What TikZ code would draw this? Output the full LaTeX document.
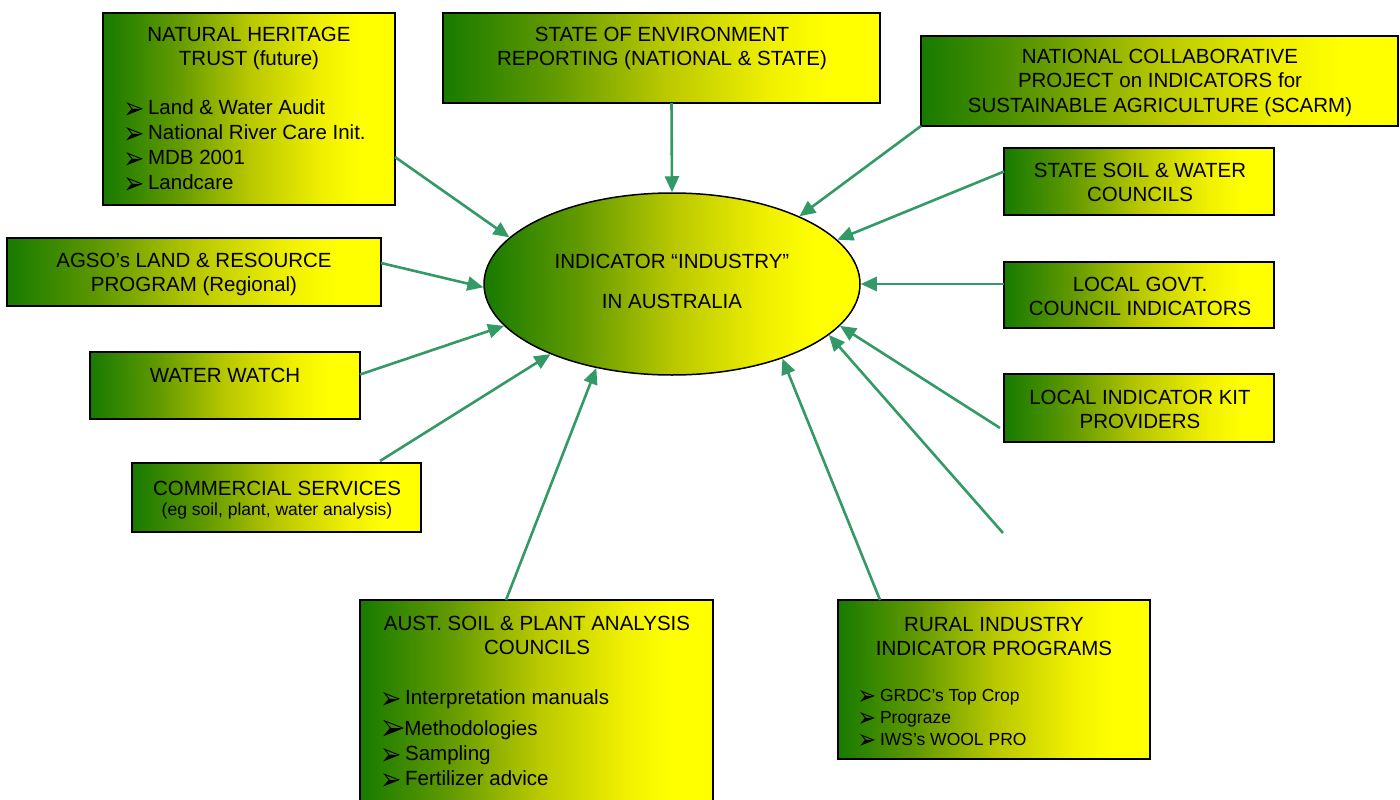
\documentclass[tikz,border=0pt]{standalone}
\usepackage{fontspec}
\setmainfont{Liberation Sans}
\usetikzlibrary{shapes.geometric,arrows.meta,calc}
\definecolor{arrowc}{RGB}{51,153,102}
\pgfdeclarehorizontalshading{gy}{100bp}{rgb(0bp)=(0.09,0.48,0); rgb(25bp)=(0.09,0.48,0); rgb(37.5bp)=(0.38,0.6,0); rgb(50bp)=(0.72,0.78,0); rgb(62.5bp)=(0.94,0.94,0); rgb(69bp)=(1,1,0); rgb(100bp)=(1,1,0)}
% arrowhead bullet glyph, #1 = scale
\newcommand{\arrbul}[1]{\tikz[baseline=0pt,x=#1pt,y=#1pt]{\fill[black] (0,0.5) -- (14,6) -- (4.5,6) -- cycle; \draw[black, line width=0.9pt, line join=miter] (0,0.5) -- (14,6) -- (0,11.5) -- (4.5,6) -- cycle;}}
\newcommand{\bul}{\arrbul{1}\hspace{6pt}}
\newcommand{\bulsm}{\arrbul{0.85}\hspace{6pt}}
\newcommand{\bulbig}{\arrbul{1.3}\hspace{1pt}}
\begin{document}
\begin{tikzpicture}[x=1pt,y=-1pt,
  box/.style={draw=black, line width=1.8pt, shading=gy, inner sep=0pt, outer sep=0pt, anchor=north west},
  txt/.style={font=\fontsize{20.5}{24}\selectfont, align=center, inner sep=0pt, text=black},
  blist/.style={align=left, inner sep=0pt, anchor=west, text=black},
  conn/.style={draw=arrowc, line width=2.6pt, -{Triangle[length=16pt,width=14pt]}},
]
\useasboundingbox (0,0) rectangle (1400,800);

% boxes
\node[box, minimum width=292, minimum height=192] (nht) at (103,13) {};
\node[box, minimum width=437, minimum height=90] (soe) at (443,13) {};
\node[box, minimum width=477, minimum height=90] (ncp) at (921,36) {};
\node[box, minimum width=270, minimum height=67] (ssw) at (1004,148) {};
\node[box, minimum width=270, minimum height=66] (lg) at (1004,262) {};
\node[box, minimum width=270, minimum height=68] (lik) at (1004,374) {};
\node[box, minimum width=312, minimum height=159] (rural) at (838,600) {};
\node[box, minimum width=353, minimum height=210] (aust) at (360,600) {};
\node[box, minimum width=289, minimum height=69] (comm) at (132,463) {};
\node[box, minimum width=270, minimum height=67] (water) at (90,352) {};
\node[box, minimum width=374, minimum height=68] (agso) at (7,238) {};

% hub
\node[ellipse, draw=black, line width=1.5pt, shading=gy, minimum width=376, minimum height=182, inner sep=0pt] (hub) at (672,284) {};

% texts
\node[txt] (tnht) at (249,48) {NATURAL HERITAGE\\TRUST (future)};
\node[blist, font=\fontsize{20.5}{25}\selectfont] (lnht) at (127,145) {\bul Land \& Water Audit\\\bul National River Care Init.\\\bul MDB 2001\\\bul Landcare};
\node[txt] (tsoe) at (662,48) {STATE OF ENVIRONMENT\\REPORTING (NATIONAL \& STATE)};
\node[txt, font=\fontsize{20.5}{24.5}\selectfont] (tncp) at (1160,82.5) {NATIONAL COLLABORATIVE\\PROJECT on INDICATORS for\\SUSTAINABLE AGRICULTURE (SCARM)};
\node[txt] (tssw) at (1140,182.5) {STATE SOIL \& WATER\\COUNCILS};
\node[txt] (tlg) at (1140,296) {LOCAL GOVT.\\COUNCIL INDICATORS};
\node[txt] (tlik) at (1140,409) {LOCAL INDICATOR KIT\\PROVIDERS};
\node[txt] (trural) at (994,636) {RURAL INDUSTRY\\INDICATOR PROGRAMS};
\node[blist, font=\fontsize{17.5}{22}\selectfont] (lrural) at (861,717) {\bulsm GRDC’s Top Crop\\\bulsm Prograze\\\bulsm IWS’s WOOL PRO};
\node[txt] (taust) at (537,635.5) {AUST. SOIL \& PLANT ANALYSIS\\COUNCILS};
\node[blist, font=\fontsize{20.5}{25}\selectfont] (laust) at (384,738) {\bul Interpretation manuals\\[6pt]\bulbig Methodologies\\\bul Sampling\\\bul Fertilizer advice};
\node[txt] (tcomm) at (277,488) {COMMERCIAL SERVICES};
\node[txt, font=\fontsize{17.5}{20}\selectfont] (tcomm2) at (277,511) {(eg soil, plant, water analysis)};
\node[txt] (twater) at (225,375) {WATER WATCH};
\node[txt] (tagso) at (194,274) {AGSO’s LAND \& RESOURCE\\PROGRAM (Regional)};
\node[txt, font=\fontsize{20.5}{40}\selectfont] (thub) at (672,281) {INDICATOR “INDUSTRY”\\IN AUSTRALIA};

% free end
\coordinate (freeend) at (1003,533);

% connectors
\draw[conn] ([yshift=-48pt]nht.east) -- (hub.164.6);
\draw[conn] ([xshift=10pt]soe.south) -- (hub.90);
\draw[conn] (ncp.south west) -- (hub.28.9);
\draw[conn] ([yshift=10pt]ssw.west) -- (hub.15.3);
\draw[conn] ([yshift=11pt]lg.west) -- (hub.0);
\draw[conn] ([xshift=-4pt,yshift=-20pt]lik.west) -- (hub.346.3);
\draw[conn] (freeend) -- (hub.342.5);
\draw[conn] ([xshift=42pt]rural.north west) -- (hub.326.6);
\draw[conn] ([xshift=146pt]aust.north west) -- (hub.228);
\draw[conn] ([xshift=-41pt,yshift=2pt]comm.north east) -- (hub.210.5);
\draw[conn] ([yshift=11pt]water.east) -- (hub.194.8);
\draw[conn] ([yshift=9pt]agso.east) -- (hub.181);
\end{tikzpicture}
\end{document}
